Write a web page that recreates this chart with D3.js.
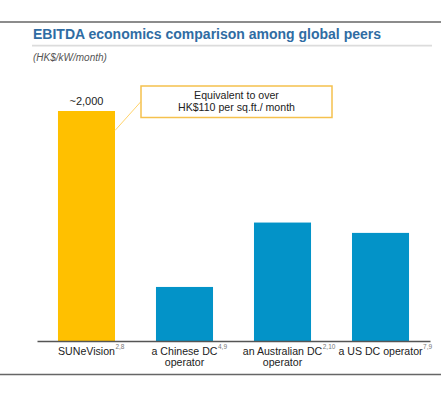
<!DOCTYPE html>
<html><head><meta charset="utf-8">
<script src="https://cdn.jsdelivr.net/npm/d3@7"></script>
<style>body{margin:0;background:#fff}svg{display:block}</style>
</head><body>
<svg id="c" width="441" height="396"></svg>
<script>
const categories = ["SUNeVision", "a Chinese DC|operator", "an Australian DC|operator", "a US DC operator"];
const superscripts = ["2,8", "4,9", "2,10", "7,9"];
const values = [2000, 470, 1030, 940];
const valueLabels = ["~2,000", "", "", ""];
const title = "EBITDA economics comparison among global peers";
const subtitle = "(HK$/kW/month)";
const calloutLines = ["Equivalent to over", "HK$110 per sq.ft./ month"];

const svg = d3.select("#c");
const font = "'Liberation Sans', Arial, sans-serif";
const colors = ["#FFC000", "#0393C8", "#0393C8", "#0393C8"];

// frame lines
svg.append("line").attr("x1",0).attr("x2",441).attr("y1",22).attr("y2",22).attr("stroke","#666").attr("stroke-width",1.5);
svg.append("line").attr("x1",0).attr("x2",441).attr("y1",374.5).attr("y2",374.5).attr("stroke","#666").attr("stroke-width",1.5);
svg.append("text").attr("x",33).attr("y",38.5).attr("font-family",font).attr("font-weight","bold").attr("font-size",14).attr("fill","#2F6CA3").text(title);
svg.append("line").attr("x1",32).attr("x2",432).attr("y1",45.7).attr("y2",45.7).attr("stroke","#DCDCDC").attr("stroke-width",1.8);
svg.append("text").attr("x",33).attr("y",60.5).attr("font-family",font).attr("font-style","italic").attr("font-size",10).attr("fill","#555").text(subtitle);

const x = d3.scaleBand().domain(categories).range([37, 430]).paddingInner(0.418).paddingOuter(0.214);
const y = d3.scaleLinear().domain([0, 2000]).range([341, 111]);

svg.selectAll("rect.bar").data(values).enter().append("rect")
  .attr("class","bar")
  .attr("x",(d,i)=>x(categories[i]))
  .attr("width",x.bandwidth())
  .attr("y",d=>y(d))
  .attr("height",d=>y(0)-y(d))
  .attr("fill",(d,i)=>colors[i]);

// axis
const axis = svg.append("g").attr("transform","translate(0,341)").call(d3.axisBottom(x).tickSize(0).tickFormat(""));
axis.select(".domain").attr("stroke","#555").attr("stroke-width",1.3);

// category labels
categories.forEach((c,i)=>{
  const lines = c.split("|");
  const cx = x(c) + x.bandwidth()/2;
  lines.forEach((ln,j)=>{
    const t = svg.append("text").attr("x",cx).attr("y",355.2 + j*10.6).attr("text-anchor","middle")
      .attr("font-family",font).attr("font-size",10.6).attr("fill","#222").text(ln);
    if (j===0) {
      const w = t.node().getComputedTextLength();
      svg.append("text").attr("x",cx + w/2 + 0.5).attr("y",349).attr("font-family",font).attr("font-size",6.5).attr("fill","#777").text(superscripts[i]);
    }
  });
});

// value labels
values.forEach((v,i)=>{
  if (!valueLabels[i]) return;
  svg.append("text").attr("x",x(categories[i])+x.bandwidth()/2).attr("y",y(v)-6).attr("text-anchor","middle")
    .attr("font-family",font).attr("font-size",11).attr("fill","#222").text(valueLabels[i]);
});

// callout
const bx = 141, by = 86, bw = 191, bh = 31.5;
svg.append("line").attr("x1",x(categories[0])+x.bandwidth()).attr("y1",y(values[0])+19.5).attr("x2",bx).attr("y2",by+15.5).attr("stroke","#FFD36A").attr("stroke-width",1);
svg.append("rect").attr("x",bx).attr("y",by).attr("width",bw).attr("height",bh).attr("fill","#fff").attr("stroke","#F5C14E").attr("stroke-width",1.5);
calloutLines.forEach((ln,j)=>{
  svg.append("text").attr("x",bx+bw/2).attr("y",by+13 + j*11.5).attr("text-anchor","middle")
    .attr("font-family",font).attr("font-size",10.6).attr("fill","#222").text(ln);
});
</script>
</body></html>
